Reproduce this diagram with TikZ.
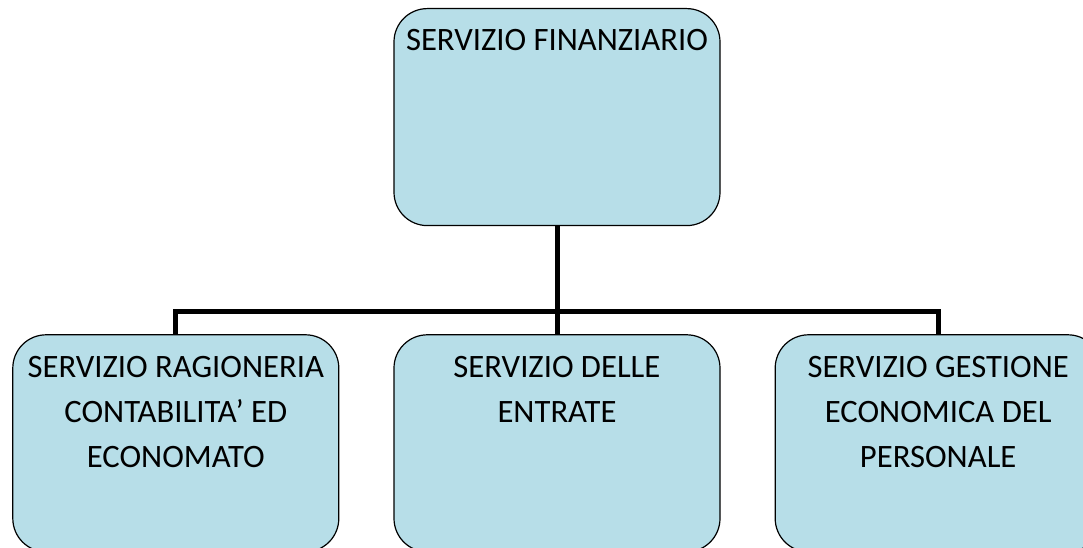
\documentclass[tikz,border=0pt]{standalone}
\usepackage{fontspec}
\setmainfont{Carlito}
\usetikzlibrary{positioning}
\definecolor{boxfill}{HTML}{B7DEE8}
\newcommand{\servlines}[1]{\begin{tabular}[t]{@{}c@{}}#1\end{tabular}}

\begin{document}
\begin{tikzpicture}[
  servizio/.style={draw,line width=0.9pt,fill=boxfill,rounded corners=25pt,anchor=north,
    minimum width=244.5pt,inner xsep=4pt,inner ysep=15.75pt,text height=16pt,text depth=115.25pt,
    font=\fontsize{24.5}{33.75}\selectfont},
  link/.style={line width=3.75pt}]
\useasboundingbox (0,0) rectangle (812.25pt,-411pt);
\clip (0,0) rectangle (812.25pt,-411pt);
\node[servizio] (finanziario) at (417.75pt,-6pt) {\servlines{SERVIZIO FINANZIARIO}};
\node[servizio,below = 81pt of finanziario] (entrate) {\servlines{SERVIZIO DELLE\\ENTRATE}};
\node[servizio,left = 40.5pt of entrate] (ragioneria) {\servlines{SERVIZIO RAGIONERIA\\CONTABILITA’ ED\\ECONOMATO}};
\node[servizio,right = 40.5pt of entrate] (gestione) {\servlines{SERVIZIO GESTIONE\\ECONOMICA DEL\\PERSONALE}};
\coordinate[above = 17.25pt of entrate.north] (bus);
\draw[link] (finanziario.south) -- (entrate.north);
\draw[link] (ragioneria.north) |- (bus) -| (gestione.north);
\end{tikzpicture}
\end{document}
